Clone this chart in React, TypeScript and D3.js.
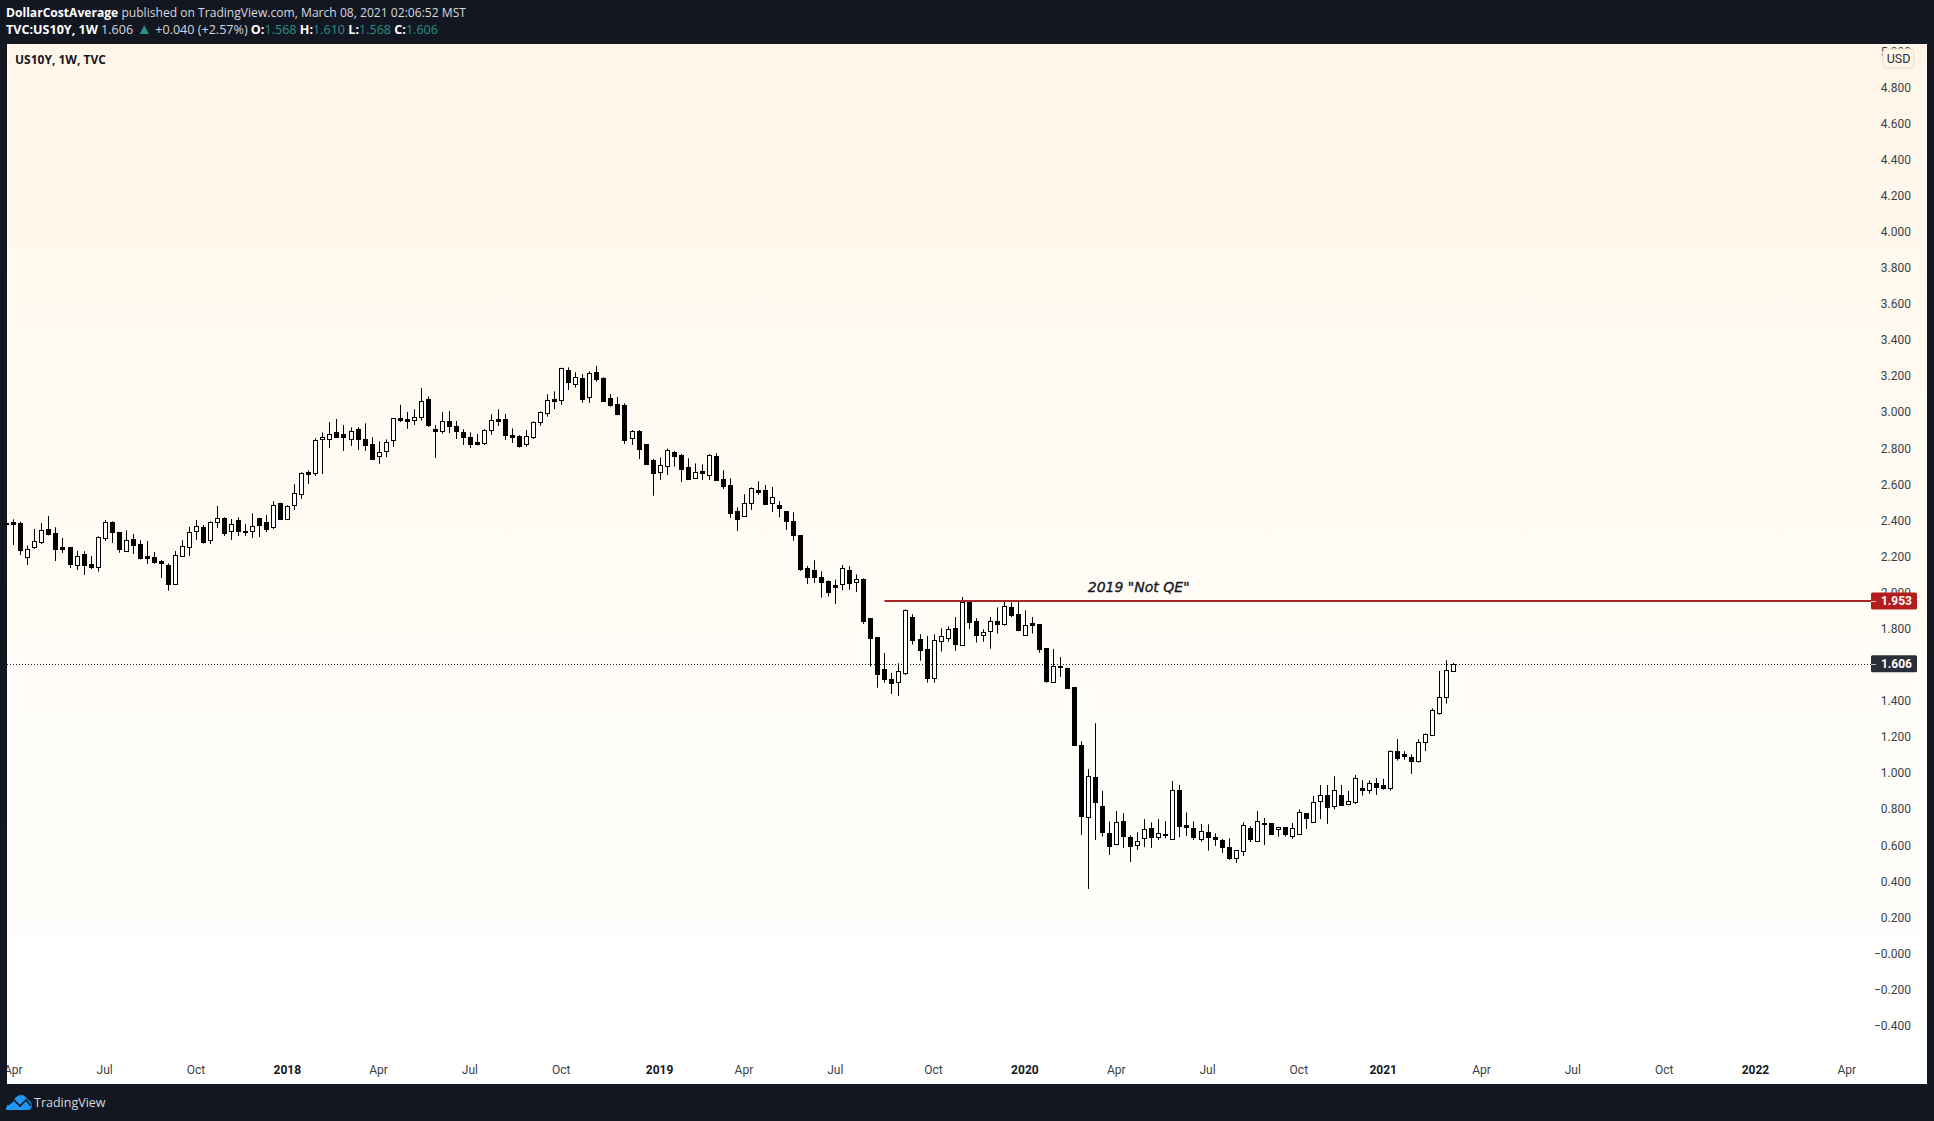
import React from "react";
import * as d3 from "d3";

const opens = [
2.386,2.391,2.384,2.199,2.251,2.282,2.352,2.330,2.251,2.253,
2.155,2.214,2.159,2.144,2.304,2.391,2.336,2.232,2.297,2.269,
2.203,2.195,2.175,2.153,2.050,2.205,2.255,2.343,2.364,2.293,
2.393,2.413,2.343,2.400,2.340,2.343,2.412,2.389,2.365,2.495,
2.410,2.484,2.548,2.667,2.665,2.849,2.849,2.888,2.877,2.849,
2.907,2.849,2.823,2.759,2.787,2.847,2.966,2.960,2.958,2.975,
3.071,2.907,2.897,2.949,2.923,2.890,2.862,2.833,2.831,2.899,
2.960,2.960,2.873,2.868,2.825,2.862,2.947,2.997,3.071,3.067,
3.233,3.158,3.189,3.086,3.221,3.189,3.078,3.045,3.040,2.855,
2.896,2.822,2.735,2.670,2.703,2.779,2.763,2.696,2.637,2.672,
2.654,2.757,2.628,2.596,2.452,2.425,2.498,2.567,2.569,2.498,
2.486,2.452,2.397,2.319,2.136,2.125,2.086,2.064,2.042,2.046,
2.125,2.061,2.075,1.858,1.752,1.577,1.521,1.507,1.556,1.865,
1.741,1.686,1.529,1.734,1.750,1.802,1.712,1.954,1.843,1.767,
1.789,1.843,1.828,1.920,1.880,1.767,1.832,1.826,1.693,1.507,
1.593,1.582,1.477,1.156,0.759,0.978,0.818,0.666,0.609,0.734,
0.646,0.603,0.638,0.694,0.648,0.662,0.636,0.906,0.710,0.696,
0.636,0.673,0.646,0.627,0.590,0.531,0.566,0.694,0.625,0.723,
0.721,0.688,0.699,0.653,0.660,0.777,0.727,0.847,0.877,0.816,
0.877,0.830,0.841,0.915,0.904,0.943,0.934,0.919,1.121,1.104,
1.087,1.069,1.170,1.209,1.335,1.420,1.568];

const highs = [
2.393,2.406,2.393,2.260,2.352,2.386,2.425,2.362,2.303,2.253,
2.231,2.229,2.203,2.312,2.402,2.395,2.336,2.345,2.325,2.290,
2.286,2.225,2.181,2.162,2.231,2.290,2.364,2.402,2.375,2.395,
2.480,2.417,2.408,2.417,2.380,2.439,2.415,2.430,2.506,2.498,
2.484,2.600,2.667,2.677,2.855,2.888,2.945,2.962,2.929,2.916,
2.916,2.938,2.860,2.838,2.849,2.966,3.040,3.001,3.016,3.134,
3.086,2.929,3.001,3.006,2.951,2.905,2.888,2.879,2.905,2.988,
3.016,2.990,2.910,2.872,2.901,2.949,3.004,3.099,3.115,3.246,
3.248,3.221,3.211,3.226,3.256,3.193,3.100,3.084,3.049,2.900,
2.901,2.824,2.740,2.748,2.799,2.785,2.768,2.744,2.716,2.711,
2.768,2.772,2.678,2.633,2.473,2.545,2.583,2.617,2.596,2.585,
2.506,2.452,2.445,2.319,2.147,2.179,2.118,2.068,2.072,2.153,
2.146,2.101,2.079,1.858,1.752,1.665,1.555,1.608,1.907,1.880,
1.769,1.760,1.769,1.802,1.813,1.865,1.976,1.959,1.858,1.797,
1.865,1.918,1.948,1.946,1.948,1.902,1.865,1.826,1.693,1.688,
1.643,1.584,1.477,1.176,1.023,1.276,0.901,0.732,0.790,0.777,
0.655,0.672,0.745,0.727,0.745,0.734,0.956,0.934,0.782,0.732,
0.718,0.716,0.666,0.635,0.638,0.574,0.727,0.705,0.790,0.751,
0.723,0.701,0.701,0.723,0.799,0.777,0.873,0.934,0.934,0.982,
0.934,0.901,0.989,0.960,0.960,0.973,0.969,1.126,1.189,1.121,
1.104,1.187,1.220,1.359,1.566,1.625,1.610];

const lows = [
2.375,2.264,2.208,2.153,2.242,2.269,2.317,2.175,2.220,2.136,
2.125,2.098,2.131,2.116,2.286,2.275,2.221,2.227,2.214,2.183,
2.159,2.160,2.081,2.011,2.050,2.197,2.203,2.292,2.271,2.269,
2.358,2.314,2.292,2.314,2.314,2.303,2.308,2.336,2.352,2.402,
2.402,2.458,2.519,2.602,2.646,2.657,2.801,2.857,2.785,2.812,
2.790,2.785,2.737,2.713,2.751,2.807,2.945,2.907,2.929,2.953,
2.918,2.746,2.881,2.884,2.851,2.818,2.801,2.816,2.818,2.875,
2.923,2.846,2.829,2.803,2.809,2.851,2.925,2.975,3.017,3.040,
3.123,3.136,3.052,3.051,3.169,3.058,3.030,2.982,2.823,2.818,
2.740,2.709,2.537,2.624,2.652,2.698,2.613,2.624,2.631,2.624,
2.624,2.624,2.574,2.414,2.342,2.419,2.458,2.541,2.487,2.447,
2.417,2.347,2.288,2.120,2.048,2.053,1.972,1.978,1.937,2.013,
2.015,2.003,1.826,1.590,1.473,1.501,1.438,1.427,1.543,1.712,
1.623,1.501,1.501,1.673,1.728,1.678,1.708,1.798,1.723,1.728,
1.689,1.773,1.817,1.865,1.786,1.761,1.773,1.667,1.501,1.501,
1.534,1.473,1.157,0.657,0.358,0.629,0.648,0.546,0.600,0.585,
0.507,0.574,0.590,0.585,0.629,0.638,0.636,0.644,0.651,0.629,
0.620,0.570,0.596,0.557,0.518,0.502,0.540,0.618,0.620,0.601,
0.659,0.648,0.648,0.636,0.657,0.690,0.725,0.745,0.718,0.799,
0.819,0.825,0.829,0.875,0.886,0.879,0.908,0.903,1.069,1.074,
0.995,1.058,1.122,1.207,1.324,1.385,1.568];

const closes = [
2.382,2.382,2.236,2.240,2.284,2.345,2.325,2.242,2.244,2.159,
2.201,2.153,2.142,2.306,2.389,2.336,2.242,2.290,2.264,2.190,
2.194,2.170,2.166,2.048,2.207,2.256,2.334,2.367,2.280,2.389,
2.412,2.330,2.378,2.341,2.336,2.367,2.377,2.352,2.484,2.408,
2.478,2.554,2.661,2.659,2.844,2.860,2.877,2.862,2.864,2.894,
2.853,2.820,2.740,2.777,2.833,2.966,2.958,2.953,2.971,3.064,
2.929,2.897,2.949,2.925,2.895,2.864,2.823,2.823,2.901,2.955,
2.953,2.873,2.864,2.812,2.866,2.945,3.001,3.065,3.064,3.243,
3.167,3.193,3.075,3.217,3.184,3.062,3.040,2.990,2.846,2.896,
2.798,2.713,2.665,2.705,2.788,2.759,2.685,2.630,2.667,2.665,
2.763,2.624,2.593,2.441,2.408,2.495,2.578,2.559,2.491,2.528,
2.469,2.399,2.319,2.131,2.086,2.086,2.059,2.003,2.033,2.136,
2.053,2.075,1.843,1.750,1.551,1.523,1.501,1.564,1.902,1.739,
1.684,1.529,1.736,1.758,1.797,1.717,1.948,1.839,1.767,1.780,
1.841,1.828,1.924,1.878,1.795,1.819,1.822,1.689,1.512,1.592,
1.586,1.473,1.157,0.762,0.982,0.842,0.676,0.598,0.727,0.653,
0.598,0.622,0.688,0.648,0.666,0.657,0.904,0.707,0.703,0.648,
0.677,0.648,0.636,0.590,0.529,0.572,0.710,0.636,0.733,0.718,
0.664,0.699,0.662,0.694,0.782,0.753,0.838,0.877,0.814,0.904,
0.825,0.843,0.971,0.908,0.943,0.925,0.919,1.121,1.085,1.096,
1.069,1.170,1.215,1.348,1.420,1.569,1.606];

const priceTicks = [5,4.8,4.6,4.4,4.2,4,3.8,3.6,3.4,3.2,3,2.8,2.6,2.4,2.2,2,1.8,1.6,1.4,1.2,1,0.8,0.6,0.4,0.2,-0,-0.2,-0.4];
const priceTickLabels = ["5.000","4.800","4.600","4.400","4.200","4.000","3.800","3.600","3.400","3.200","3.000","2.800","2.600","2.400","2.200","2.000","1.800","1.600","1.400","1.200","1.000","0.800","0.600","0.400","0.200","\u22120.000","\u22120.200","\u22120.400"];
const timeTickBars = [1,14,27,40,53,66,79,93,105,118,132,145,158,171,184,196,210,223,236,249,262];
const timeTickLabels = ["Apr","Jul","Oct","2018","Apr","Jul","Oct","2019","Apr","Jul","Oct","2020","Apr","Jul","Oct","2021","Apr","Jul","Oct","2022","Apr"];
const lastPrice = 1.606;
const levelPrice = 1.953;
const levelStartBar = 125;
const levelLabel = '2019 "Not QE"';
const levelLabelBar = 161.2;

const W = 1934, H = 1121;
const L = 7, R = 1927, T = 44, B = 1084, AX = 1871;
const font = "'Open Sans', sans-serif";
const axisFont = "Roboto, sans-serif";
const BG = "#131722";
const TEAL = "#2b8f87";

export default function App() {
  const x = d3.scaleLinear().domain([0, 206]).range([6.3, 1453.4]);
  const y = d3.scaleLinear().domain([1.8, 4.8]).range([628.7, 87.3]);
  const idx = d3.range(opens.length);
  return (
    <svg width={W} height={H} viewBox={`0 0 ${W} ${H}`} style={{ position: "absolute", left: 0, top: 0, display: "block" }} xmlns="http://www.w3.org/2000/svg">
      <defs>
        <linearGradient id="bg" x1="0" y1="0" x2="0" y2="1">
          <stop offset="0" stopColor="#fff6e8" />
          <stop offset="0.5" stopColor="#fffcf5" />
          <stop offset="1" stopColor="#ffffff" />
        </linearGradient>
        <clipPath id="pane"><rect x={L} y={T} width={AX - L} height={B - T} /></clipPath>
        <clipPath id="chart"><rect x={L} y={T} width={R - L} height={B - T} /></clipPath>
      </defs>
      <rect x={0} y={0} width={W} height={H} fill={BG} />
      <rect x={L} y={T} width={R - L} height={B - T} fill="url(#bg)" />

      <text x={6} y={17} fontFamily={font} fontSize={12} fill="#d6d8de" textLength={460} lengthAdjust="spacingAndGlyphs">
        <tspan fontWeight={700} fill="#ffffff">DollarCostAverage</tspan> published on TradingView.com, March 08, 2021 02:06:52 MST
      </text>
      <text x={6} y={34} fontFamily={font} fontSize={12} fill="#d6d8de" textLength={432} lengthAdjust="spacingAndGlyphs">
        <tspan fontWeight={700} fill="#ffffff">TVC:US10Y, 1W</tspan>{"  1.606 "}<tspan fill={TEAL} fontSize={15}>▲</tspan>{" +0.040 (+2.57%) "}
        <tspan fontWeight={700} fill="#ffffff">O:</tspan><tspan fill={TEAL}>1.568</tspan>{" "}
        <tspan fontWeight={700} fill="#ffffff">H:</tspan><tspan fill={TEAL}>1.610</tspan>{" "}
        <tspan fontWeight={700} fill="#ffffff">L:</tspan><tspan fill={TEAL}>1.568</tspan>{" "}
        <tspan fontWeight={700} fill="#ffffff">C:</tspan><tspan fill={TEAL}>1.606</tspan>
      </text>

      <text x={15} y={64} fontFamily={font} fontSize={12} fontWeight={700} fill="#131722">US10Y, 1W, TVC</text>

      <line x1={L} x2={AX} y1={Math.round(y(lastPrice)) + 0.5} y2={Math.round(y(lastPrice)) + 0.5} stroke="#222" strokeWidth={1} strokeDasharray="1 2" />

      <g clipPath="url(#pane)">
        {idx.map((i) => {
          const cx = Math.round(x(i)) + 0.5;
          const up = closes[i] >= opens[i];
          const top = Math.round(y(Math.max(opens[i], closes[i])));
          const bot = Math.round(y(Math.min(opens[i], closes[i])));
          return (
            <g key={i}>
              <line x1={cx} x2={cx} y1={y(highs[i])} y2={y(lows[i])} stroke="#000" strokeWidth={1} />
              <rect x={cx - 2} y={top + 0.5} width={4} height={Math.max(bot - top, 1)} fill={up ? "#ffffff" : "#000000"} stroke="#000" strokeWidth={1} />
            </g>
          );
        })}
      </g>

      <line x1={x(levelStartBar)} x2={AX} y1={y(levelPrice)} y2={y(levelPrice)} stroke="#a52a2a" strokeWidth={2} />
      <text x={x(levelLabelBar)} y={y(levelPrice) - 9} textAnchor="middle" fontFamily="'DejaVu Sans', sans-serif" fontStyle="italic" fontSize={14} stroke="#131722" strokeWidth={0.35} fill="#131722">{levelLabel}</text>

      <g clipPath="url(#chart)" fontFamily={axisFont} fontSize={12} fill="#3a3e48">
        {priceTicks.map((p, i) => (
          <text key={i} x={1911} y={y(p)} dy="0.36em" textAnchor="end">{priceTickLabels[i]}</text>
        ))}
        {timeTickBars.map((b, i) => (
          <text key={i} x={x(b)} y={1074} textAnchor="middle" fontWeight={/^\d/.test(timeTickLabels[i]) ? 700 : 400} fill={/^\d/.test(timeTickLabels[i]) ? "#131722" : "#3a3e48"}>{timeTickLabels[i]}</text>
        ))}
      </g>

      <rect x={1883} y={49} width={31} height={19} rx={3.5} fill="#fff6e8" stroke="#e6dccb" strokeWidth={1} />
      <text x={1898.5} y={58.5} dy="0.36em" textAnchor="middle" fontFamily={axisFont} fontSize={12.5} fill="#2a2e39">USD</text>

      {[{ p: levelPrice, c: "#b71c1c" }, { p: lastPrice, c: "#2a2e39" }].map((d) => (
        <g key={d.p}>
          <rect x={1871} y={y(d.p) - 8.5} width={46} height={17} rx={1.5} fill={d.c} />
          <line x1={1871} x2={1876} y1={Math.round(y(d.p)) + 0.5} y2={Math.round(y(d.p)) + 0.5} stroke="#ffffff" strokeOpacity={0.7} />
          <text x={1896.5} y={y(d.p)} dy="0.36em" textAnchor="middle" fontFamily={axisFont} fontWeight={700} fontSize={12} fill="#ffffff">{d.p.toFixed(3)}</text>
        </g>
      ))}

      <g transform="translate(6,1095)">
        <path d="M0 15 C0 10 3 8 6 8 C8 3 12 0 15 0 C18 0 20 2 21 4 C23 5 25 7 26 10 C26 13 24 15 22 15 Z" fill="#2196f3" />
        <path d="M2 10 L8 5 L14 11 L20 5 L25 11" fill="none" stroke={BG} strokeWidth={1.6} />
      </g>
      <text x={34} y={1107} fontFamily={font} fontSize={12.5} fill="#d6d8de">TradingView</text>
    </svg>
  );
}
